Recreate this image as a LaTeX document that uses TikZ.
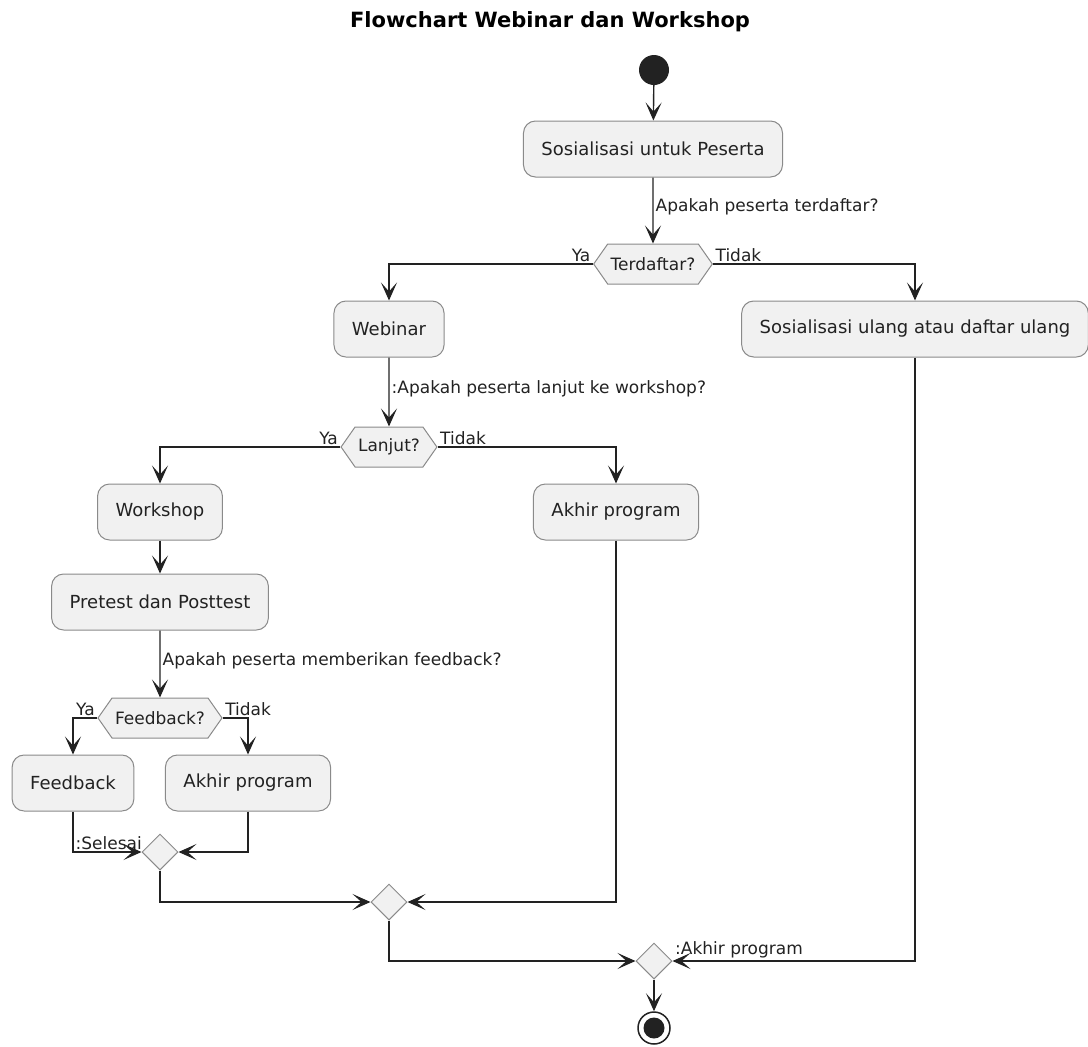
\documentclass[tikz,border=0pt]{standalone}
\usepackage{fontspec}
\setmainfont{DejaVu Sans}
\usetikzlibrary{arrows.meta,shapes.geometric,shapes.symbols}
\definecolor{boxfill}{HTML}{F1F1F1}
\definecolor{boxline}{HTML}{8A8A8A}
\definecolor{flowline}{HTML}{222222}

\begin{document}
\begin{tikzpicture}[x=1pt,y=-1pt,>={Stealth[length=18pt,width=16pt,inset=9pt]},
  action node/.style={rectangle,rounded corners=12pt,draw=boxline,fill=boxfill,line width=1pt,
    minimum height=56pt,inner xsep=18pt,text=flowline,font=\fontsize{18}{21}\selectfont},
  test node/.style={signal,signal to=west and east,signal pointer angle=110,draw=boxline,
    fill=boxfill,line width=1pt,minimum height=40pt,inner xsep=3pt,text=flowline,
    font=\fontsize{17}{20}\selectfont},
  merge node/.style={diamond,draw=boxline,fill=boxfill,line width=1pt,minimum width=36pt,
    minimum height=36pt,inner sep=0pt},
  flow/.style={->,draw=flowline,line width=1.4pt},
  edge label/.style={font=\fontsize{17}{20}\selectfont,inner sep=2pt,text=flowline}]

  \useasboundingbox (0,0) rectangle (1088,1047);

  \node[font=\fontsize{21}{24}\selectfont\bfseries] (title) at (550,22) {Flowchart Webinar dan Workshop};

  % main line
  \node[circle,fill=flowline,minimum size=30pt,inner sep=0pt] (start) at (654,70) {};
  \node[action node] (sosial) at (653,149) {Sosialisasi untuk Peserta};
  \node[test node] (daftar) at (653,264) {Terdaftar?};
  \node[action node] (webinar) at (389,329) {Webinar};
  \node[action node] (ulang) at (915,329) {Sosialisasi ulang atau daftar ulang};
  \node[test node] (lanjut) at (389,447) {Lanjut?};
  \node[action node] (workshop) at (160,512) {Workshop};
  \node[action node] (akhir1) at (616,512) {Akhir program};
  \node[action node] (pretest) at (160,602) {Pretest dan Posttest};
  \node[test node] (fbtest) at (160,718) {Feedback?};
  \node[action node] (feedback) at (73,783) {Feedback};
  \node[action node] (akhir2) at (248,783) {Akhir program};

  % merges
  \node[merge node] (merge1) at (160,852) {};
  \node[merge node] (merge2) at (389,902) {};
  \node[merge node] (merge3) at (654,961) {};
  \node[circle,draw=flowline,line width=1.5pt,minimum size=32pt,inner sep=0pt] (stop) at (654,1028) {};
  \node[circle,fill=flowline,minimum size=21pt,inner sep=0pt] (stopdot) at (stop) {};

  \draw[flow] (start) -- (sosial);
  \draw[flow] (sosial) -- node[edge label,right,pos=0.45]{Apakah peserta terdaftar?} (daftar);
  \draw[flow] (daftar.west) node[edge label,above left]{Ya} -| (webinar);
  \draw[flow] (daftar.east) node[edge label,above right]{Tidak} -| (ulang);
  \draw[flow] (webinar) -- node[edge label,right,pos=0.45]{:Apakah peserta lanjut ke workshop?} (lanjut);
  \draw[flow] (lanjut.west) node[edge label,above left]{Ya} -| (workshop);
  \draw[flow] (lanjut.east) node[edge label,above right]{Tidak} -| (akhir1);
  \draw[flow] (workshop) -- (pretest);
  \draw[flow] (pretest) -- node[edge label,right,pos=0.45]{Apakah peserta memberikan feedback?} (fbtest);
  \draw[flow] (fbtest.west) node[edge label,above left]{Ya} -| (feedback);
  \draw[flow] (fbtest.east) node[edge label,above right]{Tidak} -| (akhir2);
  \draw[flow] (feedback) |- node[edge label,above right,pos=0.5]{:Selesai} (merge1);
  \draw[flow] (akhir2) |- (merge1);
  \draw[flow] (merge1) |- (merge2);
  \draw[flow] (akhir1) |- (merge2);
  \draw[flow] (merge2) |- (merge3);
  \draw[flow] (ulang) |- node[edge label,above right,pos=1]{:Akhir program} (merge3);
  \draw[flow] (merge3) -- (stop);
\end{tikzpicture}
\end{document}
